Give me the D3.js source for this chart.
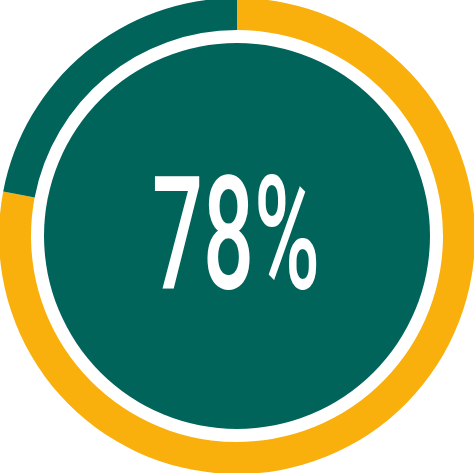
<!DOCTYPE html>
<html>
<head>
<meta charset="utf-8">
<script src="https://cdn.jsdelivr.net/npm/d3@7"></script>
<style>
  html, body { margin: 0; padding: 0; background: #fff; }
  svg { display: block; }
</style>
</head>
<body>
<div id="chart"></div>
<script>
// values for the gauge
const labels = ['Done', 'Rest'];
const values = [78, 22];
const colours = ['#f9af0c', '#00645a'];

const WIDTH = 474;
const HEIGHT = 473;
const CX = 237;
const CY = 236;

let svg = d3.select('#chart')
  .append('svg')
  .attr('width', WIDTH)
  .attr('height', HEIGHT);

let g = svg.append('g')
  .attr('transform', `translate(${CX},${CY})`);

// outer ring, starts at 12 o'clock and goes clockwise
const pie = d3.pie().sort(null).value(d => d);
const ring = d3.arc().innerRadius(206).outerRadius(238);

g.selectAll('path.slice')
  .data(pie(values))
  .enter()
  .append('path')
  .attr('class', 'slice')
  .attr('d', ring)
  .style('fill', (d, i) => colours[i]);

// inner filled disc
g.append('circle')
  .attr('r', 193)
  .style('fill', colours[1]);

// the big number
g.append('text')
  .attr('x', -85)
  .attr('y', 52)
  .attr('textLength', 168)
  .attr('lengthAdjust', 'spacingAndGlyphs')
  .style('font-family', 'Roboto, sans-serif')
  .style('font-weight', 500)
  .style('font-size', '157px')
  .style('fill', '#fff')
  .text(values[0] + '%');
</script>
</body>
</html>
